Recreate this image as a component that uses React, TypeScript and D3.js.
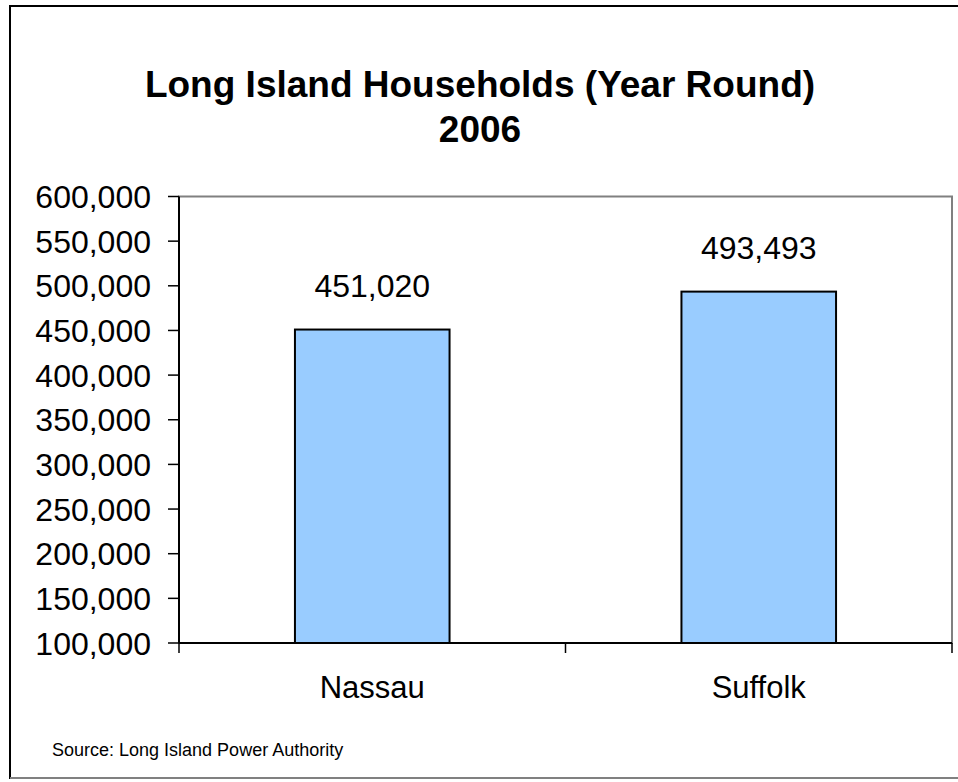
import React from "react";
import * as d3 from "d3";

const categories = ["Nassau", "Suffolk"];
const values = [451020, 493493];
const yTicks = [100000, 150000, 200000, 250000, 300000, 350000, 400000, 450000, 500000, 550000, 600000];
const titleLines = ["Long Island Households (Year Round)", "2006"];
const sourceText = "Source: Long Island Power Authority";

export default function App() {
  const W = 958, H = 782;
  const left = 179, right = 952, top = 196.5, bottom = 643;
  const x = d3.scaleBand<string>().domain(categories).range([left, right]).paddingInner(0.6).paddingOuter(0.3);
  const y = d3.scaleLinear().domain([100000, 600000]).range([bottom, top]);
  const fmt = d3.format(",");
  const font = "Arial, 'Liberation Sans', Helvetica, sans-serif";
  const xBounds = [left, (left + right) / 2, right];
  return (
    <svg width={W} height={H} style={{ position: "absolute", left: 0, top: 0 }} fontFamily={font}>
      <rect x={0} y={0} width={W} height={H} fill="#fff" />
      <rect x={10} y={6} width={960} height={772} fill="#fff" stroke="#000" strokeWidth={2} />
      <line x1={10} y1={778} x2={958} y2={778} stroke="#808080" strokeWidth={2} />
      {titleLines.map((t, i) => (
        <text key={t} x={480} y={97 + i * 45} textAnchor="middle" fontWeight="bold" fontSize={37} fill="#000">{t}</text>
      ))}
      <rect x={left} y={top} width={right - left} height={bottom - top} fill="#fff" stroke="#808080" strokeWidth={2} />
      {categories.map((c, i) => (
        <g key={c}>
          <rect x={x(c)!} y={y(values[i])} width={x.bandwidth()} height={bottom - y(values[i])} fill="#99ccff" stroke="#000" strokeWidth={2} />
          <text x={x(c)! + x.bandwidth() / 2} y={y(values[i]) - 33} textAnchor="middle" fontSize={32} fill="#000">{fmt(values[i])}</text>
          <text x={x(c)! + x.bandwidth() / 2} y={698} textAnchor="middle" fontSize={31} fill="#000">{c}</text>
        </g>
      ))}
      <line x1={left} y1={top} x2={left} y2={bottom} stroke="#000" strokeWidth={2} />
      <line x1={left} y1={bottom} x2={right} y2={bottom} stroke="#000" strokeWidth={2} />
      {yTicks.map((t) => (
        <g key={t}>
          <line x1={168} y1={y(t)} x2={left} y2={y(t)} stroke="#000" strokeWidth={1.5} />
          <text x={151} y={y(t)} dy="0.36em" textAnchor="end" fontSize={32} fill="#000">{fmt(t)}</text>
        </g>
      ))}
      {xBounds.map((b, i) => (
        <line key={i} x1={b} y1={bottom} x2={b} y2={653} stroke="#000" strokeWidth={1.5} />
      ))}
      <text x={52} y={756} fontSize={18} fill="#000">{sourceText}</text>
    </svg>
  );
}
